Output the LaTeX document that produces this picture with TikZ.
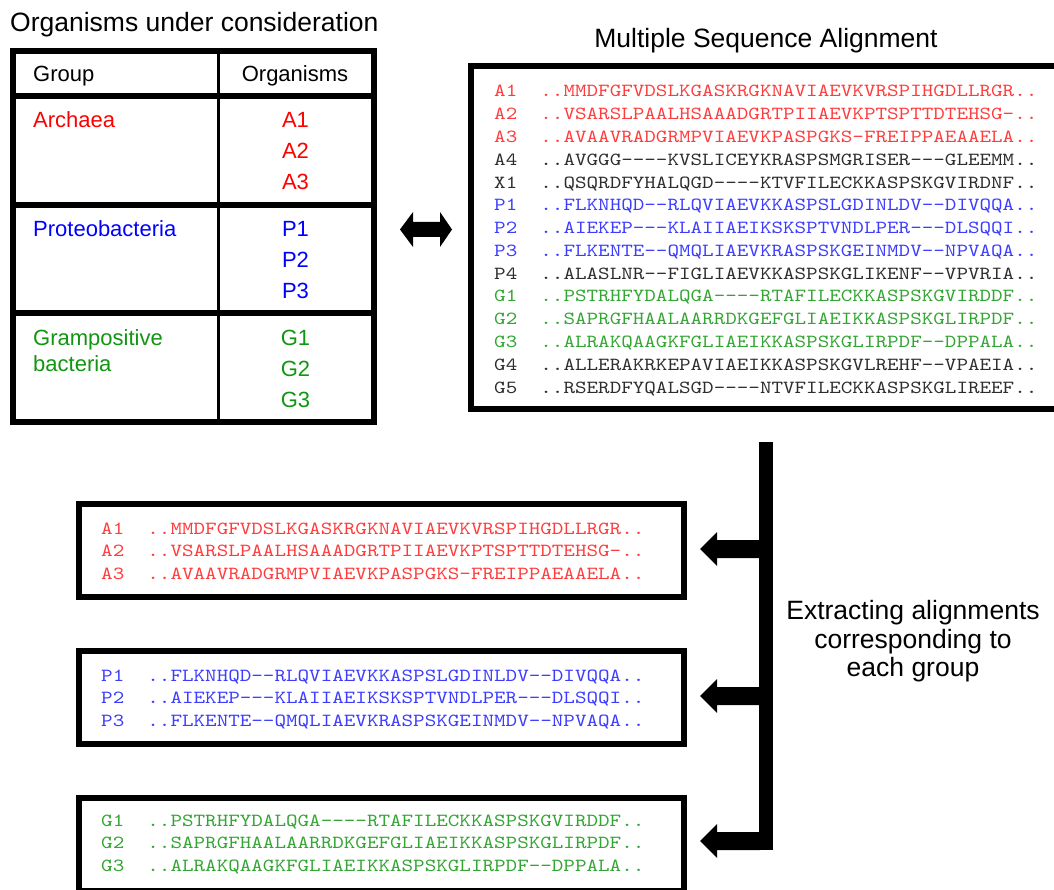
\documentclass[tikz,border=0pt]{standalone}
\usepackage{fontspec}
\setmainfont{Liberation Sans}
\newfontfamily\seqfont{lmmono10-regular.otf}[FakeStretch=1.19, Ligatures=TeXOff]
\definecolor{tred}{RGB}{255,0,0}
\definecolor{tblue}{RGB}{0,0,255}
\definecolor{tgreen}{RGB}{16,150,16}
\definecolor{sred}{RGB}{255,60,60}
\definecolor{sblue}{RGB}{60,60,255}
\definecolor{sgreen}{RGB}{50,165,50}
\definecolor{sgray}{RGB}{45,45,45}
\begin{document}
\begin{tikzpicture}[x=1pt,y=-1pt,
  thickbox/.style={draw, line width=6pt, inner sep=0pt, fill=white},
  bigtxt/.style={inner sep=0pt, font=\fontsize{26.5}{31}\selectfont},
  tabtxt/.style={inner sep=0pt, font=\fontsize{22}{26}\selectfont},
  seqtxt/.style={inner sep=0pt, anchor=base west, font=\seqfont\fontsize{18.5}{22}\selectfont},
  bigarrow/.style={fill=black}]
\useasboundingbox (0,0) rectangle (1054,890);

% ---------- titles ----------
\node[bigtxt, anchor=base west] (title1) at (10,32) {Organisms under consideration};
\node[bigtxt, anchor=base] (title2) at (766,48) {Multiple Sequence Alignment};

% ---------- table ----------
\node[thickbox, minimum width=360.5pt, minimum height=370pt] (table) at (193.25,236.5) {};
\draw[line width=6pt] (13,96.5) -- (373.5,96.5);
\draw[line width=6pt] (13,205) -- (373.5,205);
\draw[line width=6pt] (13,313.5) -- (373.5,313.5);
\draw[line width=3pt] (218.5,51.5) -- (218.5,421.5);

\node[tabtxt, anchor=base west] (hgroup) at (33,82) {Group};
\node[tabtxt, anchor=base] (horg) at (295,82) {Organisms};
\node[tabtxt, anchor=base west, text=tred] (garch) at (33,128) {Archaea};
\node[tabtxt, anchor=base west, text=tblue] (gprot) at (33,237) {Proteobacteria};
\node[tabtxt, anchor=base west, text=tgreen] (ggram1) at (33,345) {Grampositive};
\node[tabtxt, anchor=base west, text=tgreen] (ggram2) at (33,371) {bacteria};
\foreach \n/\y in {A1/128,A2/159,A3/190}
  \node[tabtxt, anchor=base, text=tred] (t\n) at (295.5,\y) {\n};
\foreach \n/\y in {P1/237,P2/268,P3/299}
  \node[tabtxt, anchor=base, text=tblue] (t\n) at (295.5,\y) {\n};
\foreach \n/\y in {G1/345,G2/376,G3/407}
  \node[tabtxt, anchor=base, text=tgreen] (t\n) at (295.5,\y) {\n};

% ---------- double arrow ----------
\coordinate (dblL) at (400,229.5);
\coordinate (dblR) at (452,229.5);
\fill[bigarrow] (dblL) -- ++(13,-17.5) -- ++(0,10) -- ++(27,0) -- ++(0,-10)
  -- (dblR) -- ++(-12,17.5) -- ++(0,-10) -- ++(-27,0) -- ++(0,10) -- cycle;

% ---------- MSA box (its right side lies outside the picture) ----------
\node[inner sep=0pt, outer sep=0pt, minimum width=600pt, minimum height=343pt] (msa) at (771,237.5) {};
\draw[line width=6pt] ([xshift=-3pt]msa.north east) -- (msa.north west) -- (msa.south west) -- ([xshift=-3pt]msa.south east);
\foreach \lab/\seq/\col [count=\i from 0] in {
  A1/MMDFGFVDSLKGASKRGKNAVIAEVKVRSPIHGDLLRGR/sred,
  A2/VSARSLPAALHSAAADGRTPIIAEVKPTSPTTDTEHSG-/sred,
  A3/AVAAVRADGRMPVIAEVKPASPGKS-FREIPPAEAAELA/sred,
  A4/AVGGG----KVSLICEYKRASPSMGRISER---GLEEMM/sgray,
  X1/QSQRDFYHALQGD----KTVFILECKKASPSKGVIRDNF/sgray,
  P1/FLKNHQD--RLQVIAEVKKASPSLGDINLDV--DIVQQA/sblue,
  P2/AIEKEP---KLAIIAEIKSKSPTVNDLPER---DLSQQI/sblue,
  P3/FLKENTE--QMQLIAEVKRASPSKGEINMDV--NPVAQA/sblue,
  P4/ALASLNR--FIGLIAEVKKASPSKGLIKENF--VPVRIA/sgray,
  G1/PSTRHFYDALQGA----RTAFILECKKASPSKGVIRDDF/sgreen,
  G2/SAPRGFHAALAARRDKGEFGLIAEIKKASPSKGLIRPDF/sgreen,
  G3/ALRAKQAAGKFGLIAEIKKASPSKGLIRPDF--DPPALA/sgreen,
  G4/ALLERAKRKEPAVIAEIKKASPSKGVLREHF--VPAEIA/sgray,
  G5/RSERDFYQALSGD----NTVFILECKKASPSKGLIREEF/sgray}
  \node[seqtxt, text=\col] (msa\i) at (494,{97+22.77*\i}) {\lab\ \ ..\seq..};

% ---------- extracted group boxes ----------
\node[thickbox, minimum width=605.5pt, minimum height=93.5pt] (box1) at (381.25,550.25) {};
\node[thickbox, minimum width=605.5pt, minimum height=93pt] (box2) at (381.25,697) {};
\node[thickbox, minimum width=605.5pt, minimum height=93pt] (box3) at (381.25,844.5) {};

\foreach \lab/\seq [count=\i from 0] in {
  A1/MMDFGFVDSLKGASKRGKNAVIAEVKVRSPIHGDLLRGR,
  A2/VSARSLPAALHSAAADGRTPIIAEVKPTSPTTDTEHSG-,
  A3/AVAAVRADGRMPVIAEVKPASPGKS-FREIPPAEAAELA}
  \node[seqtxt, text=sred] (ba\i) at (101,{534+22.6*\i}) {\lab\ \ ..\seq..};
\foreach \lab/\seq [count=\i from 0] in {
  P1/FLKNHQD--RLQVIAEVKKASPSLGDINLDV--DIVQQA,
  P2/AIEKEP---KLAIIAEIKSKSPTVNDLPER---DLSQQI,
  P3/FLKENTE--QMQLIAEVKRASPSKGEINMDV--NPVAQA}
  \node[seqtxt, text=sblue] (bp\i) at (101,{681+22.6*\i}) {\lab\ \ ..\seq..};
\foreach \lab/\seq [count=\i from 0] in {
  G1/PSTRHFYDALQGA----RTAFILECKKASPSKGVIRDDF,
  G2/SAPRGFHAALAARRDKGEFGLIAEIKKASPSKGLIRPDF,
  G3/ALRAKQAAGKFGLIAEIKKASPSKGLIRPDF--DPPALA}
  \node[seqtxt, text=sgreen] (bg\i) at (101,{826+22.8*\i}) {\lab\ \ ..\seq..};

% ---------- bracket of arrows ----------
\coordinate (busTop) at (759,442);
\coordinate (busBot) at (773,850);
\fill[bigarrow] (busTop) rectangle (busBot);
\foreach \b/\c in {box1/549,box2/696,box3/841}{
  \coordinate (tip\b) at ([xshift=13pt]\b.east |- 0,\c);
  \fill[bigarrow] (tip\b) -- ++(17,-17) -- ++(0,8) -- (760,\c-9) -- (760,\c+9)
     -- ([xshift=17pt,yshift=-9pt]tip\b) -- ++(0,8) -- cycle;
}

\node[bigtxt, anchor=base] (ext1) at (913,619) {Extracting alignments};
\node[bigtxt, anchor=base] (ext2) at (913,648) {corresponding to};
\node[bigtxt, anchor=base] (ext3) at (913,676) {each group};
\end{tikzpicture}
\end{document}
